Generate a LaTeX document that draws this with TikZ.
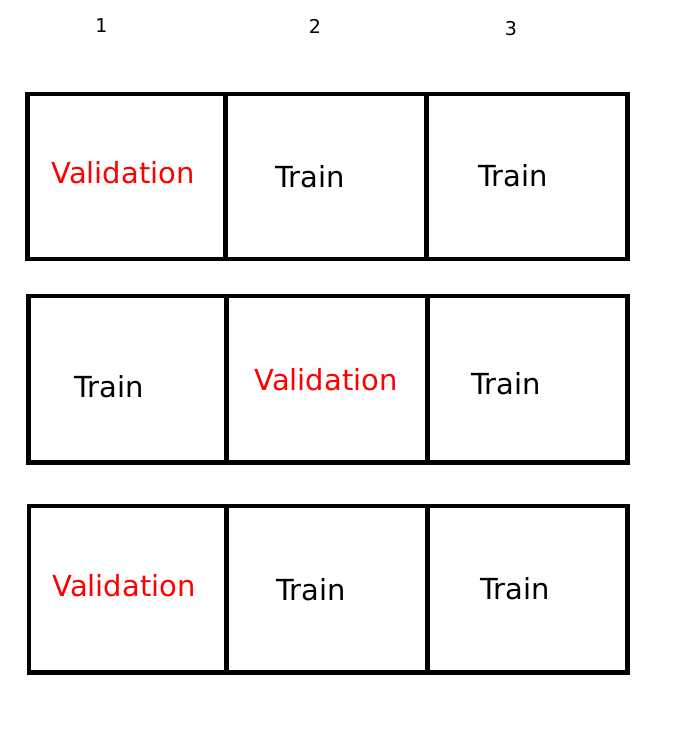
\documentclass[tikz,border=0pt]{standalone}
\usepackage{fontspec}
\setmainfont{DejaVu Sans}
\usetikzlibrary{positioning}
\tikzstyle{cell}=[draw,line width=4.5pt,inner sep=0pt,outer sep=0pt]
\tikzstyle{val}=[text=red,font=\fontsize{29}{35}\selectfont]
\tikzstyle{trn}=[text=black,font=\fontsize{29}{35}\selectfont]
\tikzstyle{num}=[font=\fontsize{19}{23}\selectfont]

\begin{document}
\begin{tikzpicture}[x=1pt,y=-1pt]
\useasboundingbox (0,0) rectangle (679,743);
% fold numbers
\node[num] (N1) at (101.5,26) {1};
\node[num] (N2) at (315,26) {2};
\node[num] (N3) at (511,29) {3};
% first split
\node[cell,minimum width=198pt,minimum height=165pt] (A1) at (126.7,176.5) {};
\node[cell,minimum width=200.8pt,minimum height=165pt] (A2) at (326.1,176.5) {};
\node[cell,minimum width=201pt,minimum height=165pt] (A3) at (527,176.5) {};
\node[val] (LA1) at (123,173) {Validation};
\node[trn] (LA2) at (310,177) {Train};
\node[trn] (LA3) at (513,176) {Train};
% second split
\node[cell,minimum width=198pt,minimum height=166.3pt] (B1) at (127.3,379.2) {};
\node[cell,minimum width=201.4pt,minimum height=166.3pt] (B2) at (327,379.2) {};
\node[cell,minimum width=200pt,minimum height=166.3pt] (B3) at (527.7,379.2) {};
\node[trn] (LB1) at (109,387) {Train};
\node[val] (LB2) at (326,380) {Validation};
\node[trn] (LB3) at (506,384) {Train};
% third split
\node[cell,minimum width=197.3pt,minimum height=166.3pt] (C1) at (127.7,589.2) {};
\node[cell,minimum width=201.4pt,minimum height=166.3pt] (C2) at (327,589.2) {};
\node[cell,minimum width=200pt,minimum height=166.3pt] (C3) at (527.7,589.2) {};
\node[val] (LC1) at (124,586) {Validation};
\node[trn] (LC2) at (311,590) {Train};
\node[trn] (LC3) at (515,589) {Train};
\end{tikzpicture}
\end{document}
